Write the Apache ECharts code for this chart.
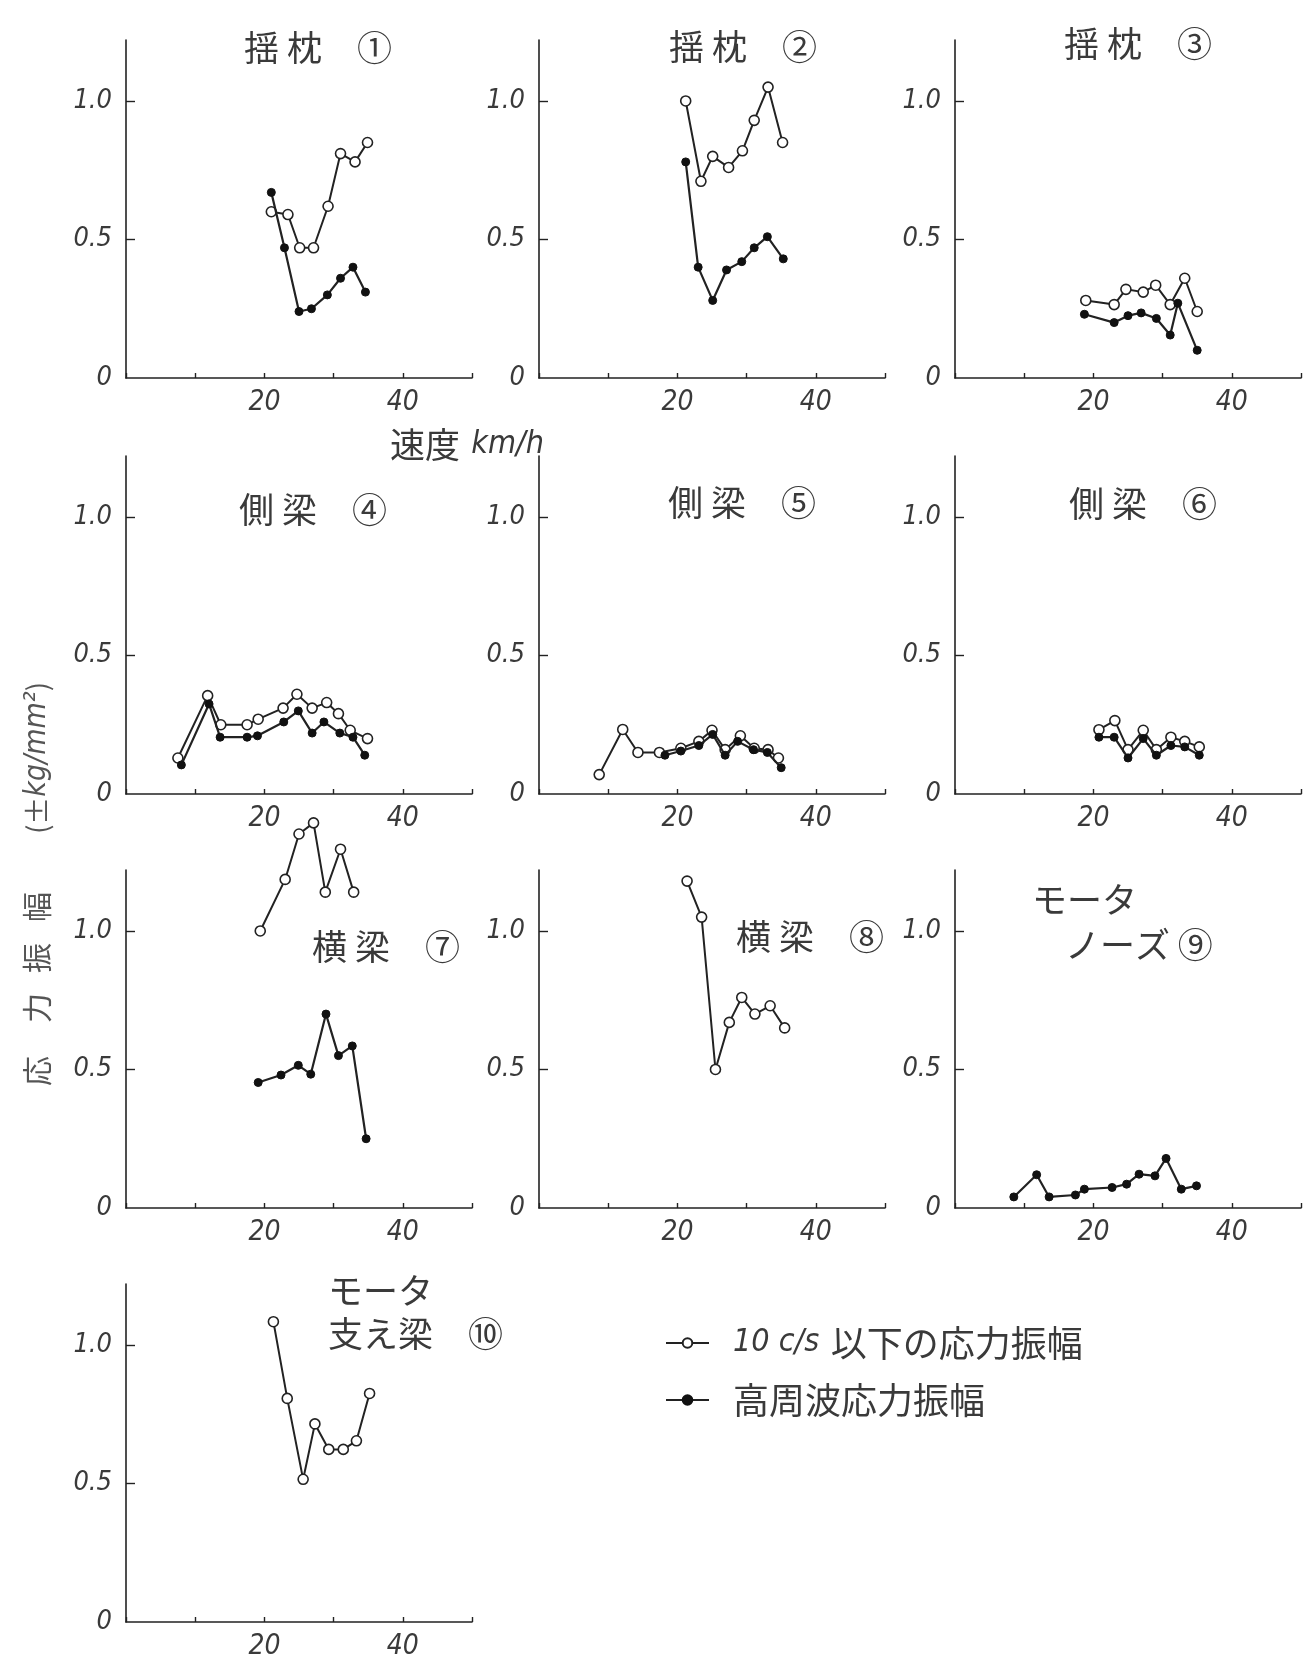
<!DOCTYPE html>
<html><head><meta charset="utf-8">
<script src="https://cdn.jsdelivr.net/npm/echarts@6/dist/echarts.min.js"></script>
<style>html,body{margin:0;padding:0;background:#fff}#c{width:1304px;height:1661px}</style>
</head><body><div id="c"></div>
<script>
// ---------- data ----------
const NAME_A = '10 c/s 以下の応力振幅';   // open circles
const NAME_B = '高周波応力振幅';           // filled dots

const panelTitles = [['揺 枕　①'], ['揺 枕　②'], ['揺 枕　③'], ['側 梁　④'], ['側 梁　⑤'], ['側 梁　⑥'],
  ['横 梁　⑦'], ['横 梁　⑧'], ['モータ', 'ノーズ ⑨'], ['モータ', '支え梁　⑩']];

const yTickValues = [0, 0.5, 1.0];
const yTickLabels = ['0', '0.5', '1.0'];
const xTickLabels = [20, 40];
const xMax = 50, yMax = 1.22;

// panel 1 揺枕①
const speedA1 = [21.0, 23.4, 25.1, 27.1, 29.2, 31.0, 33.1, 34.9];
const ampA1   = [0.60, 0.59, 0.47, 0.47, 0.62, 0.81, 0.78, 0.85];
const speedB1 = [21.0, 22.9, 25.0, 26.8, 29.1, 31.0, 32.8, 34.6];
const ampB1   = [0.67, 0.47, 0.24, 0.25, 0.30, 0.36, 0.40, 0.31];
// panel 2 揺枕②
const speedA2 = [21.2, 23.4, 25.1, 27.4, 29.4, 31.1, 33.1, 35.2];
const ampA2   = [1.00, 0.71, 0.80, 0.76, 0.82, 0.93, 1.05, 0.85];
const speedB2 = [21.2, 23.0, 25.1, 27.1, 29.3, 31.1, 33.0, 35.3];
const ampB2   = [0.78, 0.40, 0.28, 0.39, 0.42, 0.47, 0.51, 0.43];
// panel 3 揺枕③
const speedA3 = [18.9, 23.0, 24.7, 27.2, 29.0, 31.1, 33.2, 35.0];
const ampA3   = [0.28, 0.265, 0.32, 0.31, 0.335, 0.265, 0.36, 0.24];
const speedB3 = [18.7, 23.0, 25.0, 26.9, 29.1, 31.1, 32.2, 35.0];
const ampB3   = [0.23, 0.20, 0.225, 0.235, 0.215, 0.155, 0.27, 0.10];
// panel 4 側梁④
const speedA4 = [7.5, 11.8, 13.7, 17.5, 19.1, 22.7, 24.7, 26.9, 29.0, 30.7, 32.4, 34.9];
const ampA4   = [0.13, 0.355, 0.25, 0.25, 0.27, 0.31, 0.36, 0.31, 0.33, 0.29, 0.23, 0.20];
const speedB4 = [8.0, 12.0, 13.6, 17.5, 19.0, 22.8, 24.9, 26.9, 28.6, 30.9, 32.8, 34.5];
const ampB4   = [0.105, 0.325, 0.205, 0.205, 0.21, 0.26, 0.30, 0.22, 0.26, 0.22, 0.205, 0.14];
// panel 5 側梁⑤
const speedA5 = [8.7, 12.1, 14.3, 17.4, 20.5, 23.1, 25.0, 26.9, 29.1, 31.1, 33.1, 34.6];
const ampA5   = [0.07, 0.233, 0.15, 0.15, 0.165, 0.19, 0.23, 0.16, 0.21, 0.165, 0.16, 0.13];
const speedB5 = [18.2, 20.5, 23.1, 25.1, 26.9, 28.7, 31.0, 33.0, 35.0];
const ampB5   = [0.14, 0.155, 0.175, 0.215, 0.14, 0.19, 0.16, 0.15, 0.095];
// panel 6 側梁⑥
const speedA6 = [20.8, 23.1, 25.0, 27.2, 29.1, 31.2, 33.2, 35.3];
const ampA6   = [0.232, 0.265, 0.16, 0.23, 0.16, 0.205, 0.19, 0.17];
const speedB6 = [20.8, 23.0, 25.0, 27.2, 29.1, 31.2, 33.2, 35.3];
const ampB6   = [0.205, 0.205, 0.13, 0.20, 0.14, 0.175, 0.17, 0.14];
// panel 7 横梁⑦
const speedA7 = [19.4, 23.0, 25.0, 27.1, 28.8, 31.0, 32.9];
const ampA7   = [1.00, 1.186, 1.35, 1.39, 1.14, 1.295, 1.14];
const speedB7 = [19.1, 22.4, 24.9, 26.7, 28.9, 30.7, 32.7, 34.7];
const ampB7   = [0.453, 0.48, 0.515, 0.483, 0.70, 0.55, 0.585, 0.25];
// panel 8 横梁⑧
const speedA8 = [21.4, 23.5, 25.5, 27.5, 29.3, 31.2, 33.4, 35.5];
const ampA8   = [1.18, 1.05, 0.50, 0.67, 0.76, 0.70, 0.73, 0.65];
// panel 9 モータノーズ⑨
const speedB9 = [8.5, 11.8, 13.6, 17.4, 18.7, 22.7, 24.8, 26.6, 28.9, 30.5, 32.7, 34.9];
const ampB9   = [0.04, 0.12, 0.04, 0.047, 0.068, 0.074, 0.086, 0.122, 0.116, 0.179, 0.068, 0.08];
// panel 10 モータ支え梁⑩
const speedA10 = [21.3, 23.3, 25.6, 27.3, 29.3, 31.4, 33.3, 35.2];
const ampA10   = [1.084, 0.807, 0.515, 0.715, 0.623, 0.623, 0.654, 0.825];

const panels = [
  {a: [speedA1, ampA1], b: [speedB1, ampB1]},
  {a: [speedA2, ampA2], b: [speedB2, ampB2]},
  {a: [speedA3, ampA3], b: [speedB3, ampB3]},
  {a: [speedA4, ampA4], b: [speedB4, ampB4]},
  {a: [speedA5, ampA5], b: [speedB5, ampB5]},
  {a: [speedA6, ampA6], b: [speedB6, ampB6]},
  {a: [speedA7, ampA7], b: [speedB7, ampB7]},
  {a: [speedA8, ampA8], b: null},
  {a: null, b: [speedB9, ampB9]},
  {a: [speedA10, ampA10], b: null}
];

// ---------- layout ----------
const colLeft = [126, 539, 955];
const rowBottom = [378, 794, 1208, 1622];
const gridW = 346, unitH = 277;
const gridH = Math.round(yMax * unitH);
const titlePos = [[318, 48], [743, 47], [1138, 44], [313, 510], [742, 503], [1143, 504], [386, 947], [810, 937]];
const titleTwoLine = {8: [[1032, 900], [1065, 945]], 9: [[328, 1291], [328, 1334]]};

const NUM_FONT = '"Liberation Sans Narrow", "DejaVu Sans Condensed", "Liberation Sans", sans-serif';
const JP_FONT = '"Noto Sans CJK JP", "Noto Sans CJK SC", sans-serif';
const INK = '#222';
const TXT = '#3a3a3a';

const zip = (xs, ys) => xs.map((x, i) => [x, ys[i]]);

const grids = [], xAxes = [], yAxes = [], series = [], graphics = [];
panels.forEach((p, i) => {
  const c = i % 3, r = Math.floor(i / 3);
  grids.push({left: colLeft[c], top: rowBottom[r] - gridH, width: gridW, height: gridH,
    containLabel: false, outerBoundsMode: 'none'});
  xAxes.push({type: 'value', gridIndex: i, min: 0, max: xMax, interval: 10,
    axisLine: {show: true, lineStyle: {color: INK, width: 1.6}},
    axisTick: {show: true, inside: true, length: 5, lineStyle: {color: INK, width: 1.4}},
    axisLabel: {show: true, customValues: xTickLabels, margin: 11, color: TXT,
      fontFamily: NUM_FONT, fontStyle: 'italic', fontSize: 28, formatter: v => String(v)},
    splitLine: {show: false}});
  yAxes.push({type: 'value', gridIndex: i, min: 0, max: yMax,
    axisLine: {show: true, onZero: false, lineStyle: {color: INK, width: 1.6}},
    axisTick: {show: true, inside: true, length: 9, customValues: [0.5, 1.0], lineStyle: {color: INK, width: 1.4}},
    axisLabel: {show: true, customValues: yTickValues, margin: 14, color: TXT,
      fontFamily: NUM_FONT, fontStyle: 'italic', fontSize: 27,
      formatter: v => yTickLabels[yTickValues.indexOf(+(+v).toFixed(2))] ?? ''},
    splitLine: {show: false}});
  if (p.a) series.push({type: 'line', name: NAME_A, xAxisIndex: i, yAxisIndex: i,
    data: zip(p.a[0], p.a[1]), clip: false, symbol: 'circle', symbolSize: 10, z: 3,
    lineStyle: {color: INK, width: 2}, itemStyle: {color: '#fff', borderColor: INK, borderWidth: 1.6},
    emphasis: {disabled: true}});
  if (p.b) series.push({type: 'line', name: NAME_B, xAxisIndex: i, yAxisIndex: i,
    data: zip(p.b[0], p.b[1]), clip: false, symbol: 'circle', symbolSize: 8, z: 4,
    lineStyle: {color: INK, width: 2.2}, itemStyle: {color: '#111', borderColor: '#111', borderWidth: 1},
    emphasis: {disabled: true}});
  // titles
  const t = panelTitles[i];
  if (t.length === 1) {
    graphics.push({type: 'text', x: titlePos[i][0], y: titlePos[i][1],
      style: {text: t[0], fontFamily: JP_FONT, fontSize: 35, fill: TXT, align: 'center', verticalAlign: 'middle'}});
  } else {
    t.forEach((line, k) => graphics.push({type: 'text', x: titleTwoLine[i][k][0], y: titleTwoLine[i][k][1],
      style: {text: line, fontFamily: JP_FONT, fontSize: 35, fill: TXT, align: 'left', verticalAlign: 'middle'}}));
  }
});

// speed axis caption
graphics.push({type: 'text', x: 390, y: 445, style: {
  text: '{a|速度} {b|km/h}', align: 'left', verticalAlign: 'middle', fill: TXT,
  rich: {a: {fontFamily: JP_FONT, fontSize: 35, fill: TXT, padding: [0, 8, 0, 0]}, b: {fontFamily: NUM_FONT, fontStyle: 'italic', fontSize: 32, fill: TXT}}}});

// vertical y caption: 応 力 振 幅 (±kg/mm²)
const yCapChars = ['応', '力', '振', '幅'];
const yCapCenters = [1071, 1008, 958, 907];
yCapChars.forEach((ch, k) => graphics.push({type: 'text', x: 37, y: yCapCenters[k], rotation: Math.PI / 2,
  style: {text: ch, fontFamily: JP_FONT, fontSize: 30, fill: '#555', align: 'center', verticalAlign: 'middle'}}));
graphics.push({type: 'text', x: 37, y: 758, rotation: Math.PI / 2,
  style: {text: '(±{b|kg/mm²})', fontFamily: JP_FONT, fontSize: 28, fill: '#555', align: 'center', verticalAlign: 'middle',
    rich: {b: {fontFamily: NUM_FONT, fontStyle: 'italic', fontSize: 30, fill: '#555'}}}});

const option = {
  backgroundColor: '#fff',
  animation: false,
  grid: grids, xAxis: xAxes, yAxis: yAxes, series: series,
  legend: {
    show: true, orient: 'vertical', left: 660, top: 1320,
    data: [NAME_A, NAME_B], itemWidth: 43, itemHeight: 12, itemGap: 21,
    selectedMode: false,
    formatter: n => n === NAME_A ? '{i|10 c/s} {j|以下の応力振幅}' : '{j|高周波応力振幅}',
    textStyle: {color: TXT, padding: [0, 0, 0, 19],
      rich: {i: {fontFamily: NUM_FONT, fontStyle: 'italic', fontSize: 32, color: TXT, padding: [0, 8, 0, 0]},
             j: {fontFamily: JP_FONT, fontSize: 36, color: TXT}}}
  },
  graphic: graphics
};
const chart = echarts.init(document.getElementById('c'), null, {renderer: 'canvas'});
chart.setOption(option);
</script></body></html>
